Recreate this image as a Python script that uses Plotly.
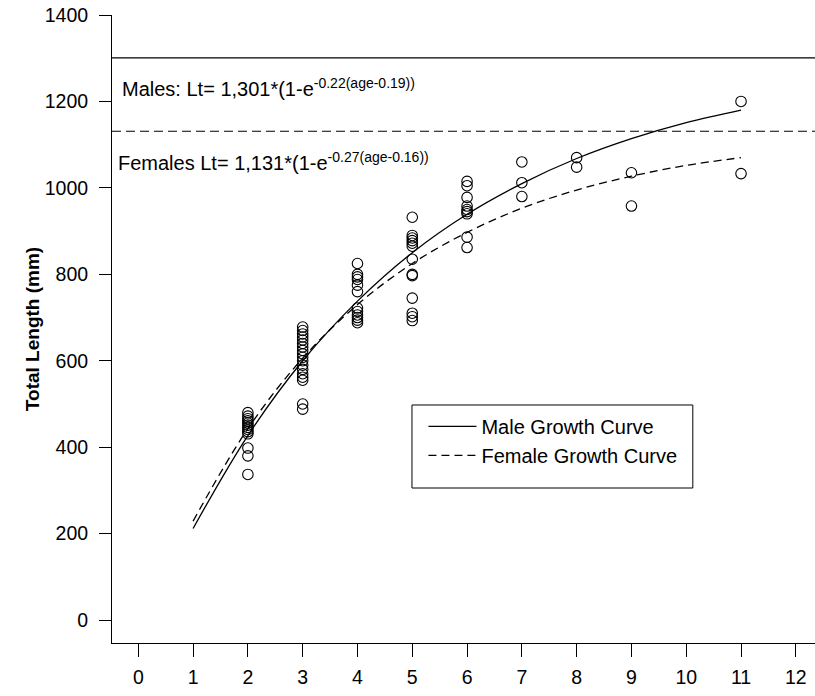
import plotly.graph_objects as go

# ---- data ----
age2 = [480, 472, 466, 461, 456, 451, 446, 441, 436, 431, 398, 380, 337]
age3 = [678, 670, 662, 655, 648, 640, 632, 624, 616, 608, 600, 590, 580, 570, 562, 555, 500, 488]
age4 = [825, 800, 794, 788, 775, 760, 722, 714, 706, 700, 694, 688]
age5 = [932, 890, 884, 878, 872, 865, 835, 800, 797, 745, 710, 702, 693]
age6 = [1015, 1005, 978, 958, 950, 945, 940, 886, 862]
age7 = [1060, 1012, 980]
age8 = [1070, 1048]
age9 = [1035, 958]
age11 = [1200, 1033]
obs_groups = [(2, age2), (3, age3), (4, age4), (5, age5), (6, age6),
              (7, age7), (8, age8), (9, age9), (11, age11)]

curve_age = [1, 2, 3, 4, 5, 6, 7, 8, 9, 10, 11]
male_curve = [212, 427, 600, 738, 850, 939, 1010, 1068, 1114, 1151, 1180]
female_curve = [229, 443, 606, 730, 825, 897, 953, 995, 1027, 1052, 1070]

male_linf = 1301
female_linf = 1131

x_ticks = list(range(0, 13))
y_ticks = [0, 200, 400, 600, 800, 1000, 1200, 1400]

male_label = "Males: Lt= 1,301*(1-e<sup>-0.22(age-0.19))</sup>"
female_label = "Females Lt= 1,131*(1-e<sup>-0.27(age-0.16))</sup>"

obs_x = [a for a, vals in obs_groups for _ in vals]
obs_y = [v for _, vals in obs_groups for v in vals]

FONT = "Liberation Sans, Arial, sans-serif"
FS_TICK = 19.5
FS_TEXT = 20

fig = go.Figure()
fig.add_trace(go.Scatter(
    x=obs_x, y=obs_y, mode="markers", showlegend=False,
    marker=dict(symbol="circle-open", size=10.5, color="black",
                line=dict(width=1.1, color="black")),
))
fig.add_trace(go.Scatter(
    x=curve_age, y=male_curve, mode="lines", name="Male Growth Curve",
    line=dict(color="black", width=1.3, shape="spline"),
))
fig.add_trace(go.Scatter(
    x=curve_age, y=female_curve, mode="lines", name="Female Growth Curve",
    line=dict(color="black", width=1.3, shape="spline", dash="8px,5px"),
))

fig.add_shape(type="line", xref="paper", yref="y", x0=0, x1=1,
              y0=male_linf, y1=male_linf, line=dict(color="black", width=1.2))
fig.add_shape(type="line", xref="paper", yref="y", x0=0, x1=1,
              y0=female_linf, y1=female_linf,
              line=dict(color="black", width=1.2, dash="9px,5px"))
# legend frame
fig.add_shape(type="rect", xref="paper", yref="paper",
              x0=0.4267, x1=0.8262, y0=0.2468, y1=0.379,
              line=dict(color="black", width=1), fillcolor="rgba(0,0,0,0)")

fig.add_annotation(xref="paper", yref="paper", x=0.011, y=0.8838,
                   xanchor="left", yanchor="middle", showarrow=False,
                   text=male_label, font=dict(family=FONT, size=FS_TEXT, color="black"))
fig.add_annotation(xref="paper", yref="paper", x=0.005, y=0.766,
                   xanchor="left", yanchor="middle", showarrow=False,
                   text=female_label, font=dict(family=FONT, size=FS_TEXT, color="black"))

fig.update_layout(
    width=815, height=696,
    margin=dict(l=112, r=0, t=15, b=53),
    paper_bgcolor="white", plot_bgcolor="white",
    font=dict(family=FONT, size=FS_TICK, color="black"),
    showlegend=True,
    legend=dict(x=0.443, y=0.376, xanchor="left", yanchor="top",
                bgcolor="rgba(0,0,0,0)", borderwidth=0,
                itemwidth=48, font=dict(family=FONT, size=FS_TEXT, color="black")),
    xaxis=dict(range=[-0.48, 12.35], tickvals=x_ticks, ticktext=[str(t) for t in x_ticks],
               showgrid=False, zeroline=False, showline=True, linecolor="black",
               linewidth=1, ticks="outside", ticklen=13, tickcolor="black",
               tickwidth=1, ticklabelstandoff=4,
               tickfont=dict(family=FONT, size=FS_TICK, color="black")),
    yaxis=dict(range=[-53, 1400], tickvals=y_ticks, showgrid=False, zeroline=False,
               showline=True, linecolor="black", linewidth=1, ticks="outside",
               ticklen=12, tickcolor="black", tickwidth=1, ticklabelstandoff=7,
               tickfont=dict(family=FONT, size=FS_TICK, color="black"),
               title=dict(text="Total Length (mm)", standoff=0,
                          font=dict(family=FONT, size=19, color="black", weight="bold"))),
)

fig.write_html("out.html")
